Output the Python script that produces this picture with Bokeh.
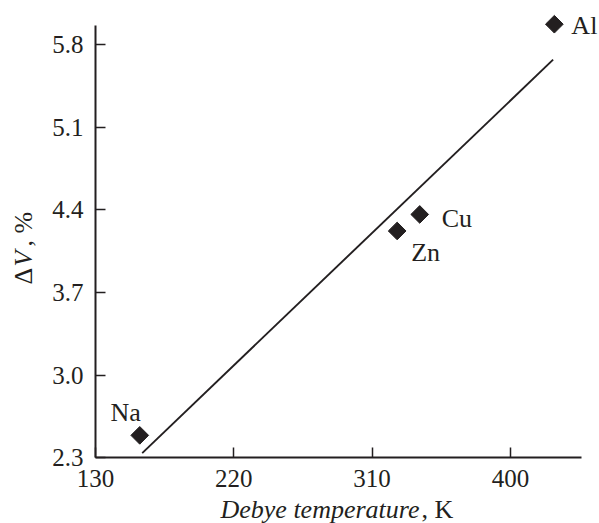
import math
from bokeh.plotting import figure
from bokeh.models import Range1d, FixedTicker, PrintfTickFormatter, Label
from bokeh.embed import file_html
from bokeh.resources import INLINE

# ---- data ----
elements = ["Na", "Zn", "Cu", "Al"]
debye_temp = [158.8, 326.3, 341.0, 428.6]
delta_v = [2.49, 4.22, 4.36, 5.97]

fit_x = [160.4, 427.8]
fit_y = [2.34, 5.67]

x_ticks = [130, 220, 310, 400]
y_ticks = [2.3, 3.0, 3.7, 4.4, 5.1, 5.8]

x_title = "Debye temperature"
x_unit = ", K"

# ---- styles ----
FONT = "Liberation Serif"
INK = "#231f20"
FS = "26px"

W, H = 599, 523
# axis origin and scales (pixels)
AX_PX, AX_PY = 95.0, 457.3        # pixel position of (130, 2.3)
SX = 138.3 / 90.0                 # px per K
SY = 82.7 / 0.7                   # px per %
X0 = 130 - AX_PX / SX
X1 = 130 + (W - AX_PX) / SX
Y1 = 2.3 + AX_PY / SY
Y0 = 2.3 - (H - AX_PY) / SY

p = figure(width=W, height=H, output_backend="svg", toolbar_location=None,
           x_range=Range1d(X0, X1), y_range=Range1d(Y0, Y1),
           min_border=0)
p.outline_line_color = None
p.grid.visible = False
p.background_fill_color = "white"
p.border_fill_color = "white"

for ax in (p.xaxis[0], p.yaxis[0]):
    ax.axis_line_width = 2
    ax.axis_line_color = INK
    ax.major_tick_line_color = INK
    ax.major_tick_line_width = 1.5
    ax.major_tick_in = 10
    ax.major_tick_out = 0
    ax.minor_tick_line_color = None
    ax.major_label_text_font = FONT
    ax.major_label_text_font_size = "25px"
    ax.major_label_text_color = INK
    ax.axis_label = None

p.xaxis[0].ticker = FixedTicker(ticks=x_ticks)
p.yaxis[0].ticker = FixedTicker(ticks=y_ticks)
p.yaxis[0].formatter = PrintfTickFormatter(format="%.1f")
p.xaxis[0].fixed_location = y_ticks[0]
p.yaxis[0].fixed_location = x_ticks[0]
p.xaxis[0].bounds = (130, 446.2)
p.yaxis[0].bounds = (2.3, 5.955)
p.xaxis[0].major_label_standoff = 12
p.yaxis[0].major_label_standoff = 12

# fit line
p.line(fit_x, fit_y, line_color=INK, line_width=1.9)

# points
p.scatter(debye_temp, delta_v, marker="square", size=12.5, angle=math.pi / 4,
          fill_color=INK, line_color=INK)

# point labels (pixel offsets from each point)
offsets = {"Na": (-14, 23, "center"), "Zn": (14, -22, "left"),
           "Cu": (22, -4, "left"), "Al": (17, -1, "left")}
for name, xv, yv in zip(elements, debye_temp, delta_v):
    dx, dy, al = offsets[name]
    p.add_layout(Label(x=xv, y=yv, text=name, x_offset=dx, y_offset=dy,
                       text_align=al, text_baseline="middle",
                       text_font=FONT, text_font_size=FS, text_color=INK))


def to_data(px, py):
    """Convert a pixel position to data coordinates."""
    return X0 + px / SX, Y1 - py / SY


# x axis title
tx, ty = to_data(220, 509)
p.add_layout(Label(x=tx, y=ty, text=x_title, text_align="left",
                   text_baseline="middle", text_font=FONT,
                   text_font_size=FS, text_font_style="italic", text_color=INK))
tx2, _ = to_data(421, 509)
p.add_layout(Label(x=tx2, y=ty, text=x_unit, text_align="left",
                   text_baseline="middle", text_font=FONT,
                   text_font_size=FS, text_color=INK))

# y axis title: "ΔV, %"
for txt, py, style in [("\u0394", 284, "normal"), ("V", 266, "italic"),
                       (", %", 246, "normal")]:
    lx, ly = to_data(23, py)
    p.add_layout(Label(x=lx, y=ly, text=txt, angle=math.pi / 2,
                       text_align="left", text_baseline="middle",
                       text_font=FONT, text_font_size=FS,
                       text_font_style=style, text_color=INK))

open("out.html", "w").write(file_html(p, INLINE))
